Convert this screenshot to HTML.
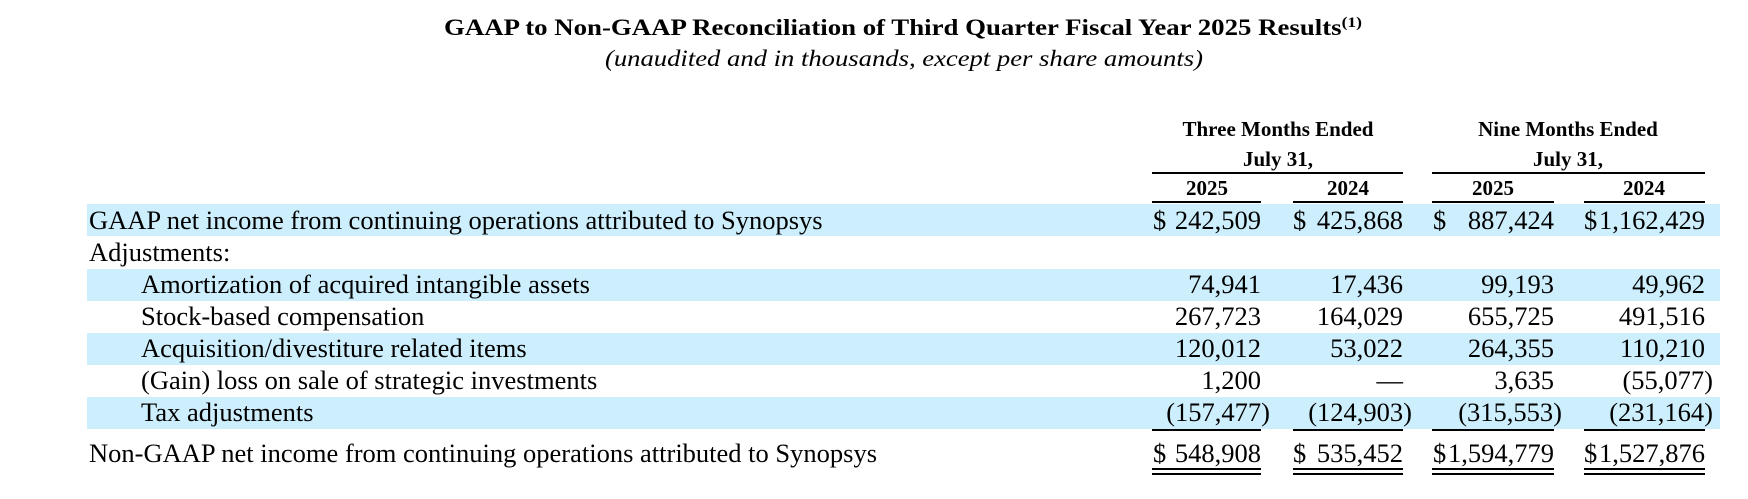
<!DOCTYPE html>
<html><head><meta charset="utf-8"><style>
html,body{margin:0;padding:0;background:#fff;}
svg{display:block;}
text{font-family:"Liberation Serif",serif;fill:#000;}
.b{font-weight:bold;}
.n{font-size:26.5px;}
</style></head><body>
<svg width="1748" height="499" viewBox="0 0 1748 499" xmlns="http://www.w3.org/2000/svg">
<text x="444" y="35" class="b" font-size="23" textLength="918" lengthAdjust="spacingAndGlyphs">GAAP to Non-GAAP Reconciliation of Third Quarter Fiscal Year 2025 Results<tspan font-size="15" dy="-8">(1)</tspan></text>
<text x="605" y="66" font-size="23" font-style="italic" textLength="598" lengthAdjust="spacingAndGlyphs">(unaudited and in thousands, except per share amounts)</text>

<g class="b" font-size="21" text-anchor="middle">
<text x="1278" y="136">Three Months Ended</text>
<text x="1278" y="166">July 31,</text>
<text x="1568" y="136">Nine Months Ended</text>
<text x="1568" y="166">July 31,</text>
<text x="1207" y="195">2025</text>
<text x="1348" y="195">2024</text>
<text x="1493" y="195">2025</text>
<text x="1644" y="195">2024</text>
</g>
<g stroke="#000" stroke-width="2">
<line x1="1152" y1="173" x2="1403" y2="173"/>
<line x1="1432" y1="173" x2="1705" y2="173"/>
<line x1="1152" y1="202" x2="1261" y2="202"/>
<line x1="1293" y1="202" x2="1403" y2="202"/>
<line x1="1432" y1="202" x2="1554" y2="202"/>
<line x1="1584" y1="202" x2="1705" y2="202"/>
</g>

<g fill="#cdeefc">
<rect x="87" y="204" width="1633" height="32"/>
<rect x="87" y="269" width="1633" height="32"/>
<rect x="87" y="333" width="1633" height="32"/>
<rect x="87" y="397" width="1633" height="32"/>
</g>

<g class="n">
<text x="89" y="229">GAAP net income from continuing operations attributed to Synopsys</text>
<text x="89" y="261">Adjustments:</text>
<text x="141" y="293">Amortization of acquired intangible assets</text>
<text x="141" y="325">Stock-based compensation</text>
<text x="141" y="357">Acquisition/divestiture related items</text>
<text x="141" y="389">(Gain) loss on sale of strategic investments</text>
<text x="141" y="421">Tax adjustments</text>
<text x="89" y="462">Non-GAAP net income from continuing operations attributed to Synopsys</text>
</g>

<g class="n">
<text x="1153" y="229">$</text><text x="1293" y="229">$</text><text x="1433" y="229">$</text><text x="1584" y="229">$</text>
<text x="1153" y="462">$</text><text x="1293" y="462">$</text><text x="1433" y="462">$</text><text x="1584" y="462">$</text>
</g>
<g class="n" text-anchor="end">
<text x="1261" y="229">242,509</text><text x="1403" y="229">425,868</text><text x="1554" y="229">887,424</text><text x="1705" y="229">1,162,429</text>
<text x="1261" y="293">74,941</text><text x="1403" y="293">17,436</text><text x="1554" y="293">99,193</text><text x="1705" y="293">49,962</text>
<text x="1261" y="325">267,723</text><text x="1403" y="325">164,029</text><text x="1554" y="325">655,725</text><text x="1705" y="325">491,516</text>
<text x="1261" y="357">120,012</text><text x="1403" y="357">53,022</text><text x="1554" y="357">264,355</text><text x="1705" y="357">110,210</text>
<text x="1261" y="389">1,200</text><text x="1403" y="389">—</text><text x="1554" y="389">3,635</text><text x="1713" y="389">(55,077)</text>
<text x="1270" y="421">(157,477)</text><text x="1412" y="421">(124,903)</text><text x="1562" y="421">(315,553)</text><text x="1713" y="421">(231,164)</text>
<text x="1261" y="462">548,908</text><text x="1403" y="462">535,452</text><text x="1554" y="462">1,594,779</text><text x="1705" y="462">1,527,876</text>
</g>
<g stroke="#000" stroke-width="2">
<line x1="1152" y1="430" x2="1261" y2="430"/><line x1="1293" y1="430" x2="1403" y2="430"/><line x1="1432" y1="430" x2="1554" y2="430"/><line x1="1584" y1="430" x2="1705" y2="430"/>
<line x1="1152" y1="469" x2="1261" y2="469"/><line x1="1293" y1="469" x2="1403" y2="469"/><line x1="1432" y1="469" x2="1554" y2="469"/><line x1="1584" y1="469" x2="1705" y2="469"/>
<line x1="1152" y1="474" x2="1261" y2="474"/><line x1="1293" y1="474" x2="1403" y2="474"/><line x1="1432" y1="474" x2="1554" y2="474"/><line x1="1584" y1="474" x2="1705" y2="474"/>
</g>
</svg>
</body></html>
